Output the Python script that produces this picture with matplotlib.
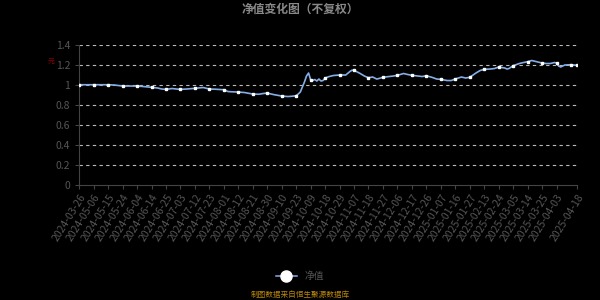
import numpy as np
import matplotlib
matplotlib.use('Agg')
import matplotlib.pyplot as plt
from matplotlib.lines import Line2D

plt.rcParams['font.family'] = ['Noto Sans CJK SC', 'DejaVu Sans']

# tick labels (every 7th trading day, the 04-14 one is hidden in the original)
tick_labels = ['2024-03-26', '2024-05-06', '2024-05-15', '2024-05-24', '2024-06-04',
               '2024-06-14', '2024-06-25', '2024-07-03', '2024-07-12', '2024-07-23',
               '2024-08-01', '2024-08-12', '2024-08-21', '2024-08-30', '2024-09-10',
               '2024-09-23', '2024-10-09', '2024-10-18', '2024-10-29', '2024-11-07',
               '2024-11-18', '2024-11-27', '2024-12-06', '2024-12-17', '2024-12-26',
               '2025-01-07', '2025-01-16', '2025-01-27', '2025-02-13', '2025-02-24',
               '2025-03-05', '2025-03-14', '2025-03-25', '2025-04-03', '2025-04-18']
tick_pos = list(range(0, 238, 7)) + [241]
marker_pos = list(range(0, 239, 7)) + [241]

# trading-day index and net value
day = [0, 3, 7, 10, 14, 17, 21, 24, 28, 31, 35, 38, 40, 42, 45, 47, 49, 52, 56, 60,
       63, 66, 70, 72, 74, 77, 80, 84, 87, 89, 91, 94, 98, 101, 103, 105, 106, 107, 108,
       109, 110, 111, 112, 113, 114, 115, 116, 117, 118, 119, 121, 123, 126, 129, 131,
       132, 133, 136, 138, 140, 142, 144, 145, 147, 150, 152, 154, 157, 159, 161, 164,
       166, 168, 171, 173, 175, 178, 180, 182, 185, 187, 189, 192, 194, 196, 199, 201,
       203, 206, 207, 208, 210, 213, 215, 217, 219, 221, 224, 226, 228, 230, 231, 232,
       233, 235, 238, 241]
nav = [1.003, 1.003, 1.003, 1.003, 1.003, 1.0, 0.99, 0.99, 0.99, 0.985, 0.977, 0.97,
       0.96, 0.957, 0.965, 0.96, 0.957, 0.96, 0.967, 0.975, 0.96, 0.958, 0.953, 0.935,
       0.932, 0.93, 0.925, 0.91, 0.908, 0.915, 0.92, 0.905, 0.89, 0.885, 0.888, 0.893,
       0.91, 0.93, 0.98, 1.03, 1.09, 1.12, 1.053, 1.045, 1.055, 1.04, 1.06, 1.04, 1.045,
       1.07, 1.085, 1.095, 1.10, 1.10, 1.135, 1.148, 1.147, 1.115, 1.09, 1.073, 1.08,
       1.06, 1.065, 1.077, 1.085, 1.09, 1.097, 1.115, 1.105, 1.097, 1.09, 1.085, 1.093,
       1.075, 1.06, 1.057, 1.045, 1.045, 1.06, 1.08, 1.07, 1.077, 1.12, 1.145, 1.157,
       1.16, 1.165, 1.18, 1.17, 1.16, 1.165, 1.193, 1.215, 1.225, 1.233, 1.245, 1.235,
       1.22, 1.215, 1.215, 1.225, 1.22, 1.19, 1.18, 1.2, 1.203, 1.197]

fig = plt.figure(figsize=(6, 3), dpi=100, facecolor='black')
ax = fig.add_axes([0.132, 0.383, 0.83, 0.467])
ax.set_facecolor('black')

line_color = '#86aee6'
marks = [day.index(d) for d in marker_pos]
ax.plot(day, nav, color=line_color, lw=1.2, marker='s', markersize=2.0,
        markerfacecolor='white', markeredgecolor='white', markevery=marks, zorder=3)

ax.set_ylim(0, 1.4)
ax.set_xlim(0, 241)
ax.set_yticks(np.arange(0, 1.41, 0.2))
ax.set_yticklabels(['0', '0.2', '0.4', '0.6', '0.8', '1', '1.2', '1.4'])
ax.set_xticks(tick_pos)
ax.set_xticklabels(tick_labels, rotation=58, ha='right', rotation_mode='anchor')
ax.tick_params(axis='both', colors='#444444', labelcolor='#555555', labelsize=7.5,
               length=3, width=0.8)
ax.tick_params(axis='x', labelsize=7.5, pad=2)

for v in np.arange(0.2, 1.41, 0.2):
    ax.axhline(v, color='#bbbbbb', lw=0.8, ls=(0, (3, 3)), zorder=1)

for s in ['top', 'right']:
    ax.spines[s].set_visible(False)
ax.spines['left'].set_color('#444444')
ax.spines['bottom'].set_color('#444444')

fig.text(0.5, 0.97, '净值变化图（不复权）', color='#888888', fontsize=8.5,
         fontweight='bold', ha='center', va='center')
fig.text(0.086, 0.795, '元', color='#8b0000', fontsize=5, ha='center', va='center')

handle = Line2D([0], [0], color=line_color, lw=1.1, marker='o', markersize=8,
                markerfacecolor='white', markeredgecolor='white')
leg = fig.legend(handles=[handle], labels=['净值'], loc='center',
                 bbox_to_anchor=(0.5, 1 - 276 / 300), frameon=False, fontsize=7,
                 handlelength=2.2, labelcolor='#555555')

fig.text(0.5, 1 - 295 / 300, '制图数据来自恒生聚源数据库', color='#b8860b', fontsize=5.5,
         ha='center', va='center')

fig.savefig('out.png', dpi=100, facecolor='black')
